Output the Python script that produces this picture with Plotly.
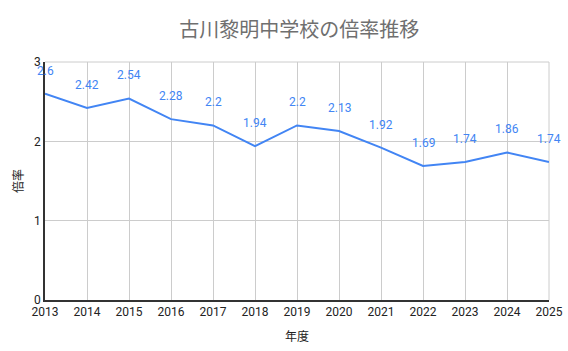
import plotly.graph_objects as go

years = [2013, 2014, 2015, 2016, 2017, 2018, 2019, 2020, 2021, 2022, 2023, 2024, 2025]
ratios = [2.6, 2.42, 2.54, 2.28, 2.2, 1.94, 2.2, 2.13, 1.92, 1.69, 1.74, 1.86, 1.74]
labels = ["2.6", "2.42", "2.54", "2.28", "2.2", "1.94", "2.2", "2.13", "1.92", "1.69", "1.74", "1.86", "1.74"]

FONT = "Roboto, 'Noto Sans CJK JP', sans-serif"
BLUE = "#4285F4"

fig = go.Figure()
fig.add_trace(go.Scatter(x=years, y=ratios, mode="lines",
                         line=dict(color=BLUE, width=2), hoverinfo="x+y"))

for x, y, t in zip(years, ratios, labels):
    fig.add_annotation(x=x, y=y, text=t, showarrow=False, yshift=23,
                       font=dict(color=BLUE, size=12, family=FONT))

fig.update_layout(
    width=568, height=351,
    margin=dict(l=45, r=19, t=62, b=51),
    paper_bgcolor="white", plot_bgcolor="white",
    showlegend=False,
    title=dict(text="古川黎明中学校の倍率推移", x=0.527, xanchor="center", y=0.915, yanchor="middle",
               font=dict(family="'Noto Sans CJK JP', sans-serif", size=20, color="#6f6f6f")),
    font=dict(family=FONT, size=12, color="#222222"),
)
fig.update_xaxes(range=[2013, 2025], tickvals=years, ticktext=[str(y) for y in years],
                 automargin=False,
                 showgrid=True, gridcolor="#cccccc", gridwidth=1,
                 showline=True, linecolor="#333333", linewidth=1.5, mirror=False,
                 ticks="", zeroline=False,
                 title=dict(text="年度", font=dict(size=12, family=FONT, color="#222222"), standoff=14),
                 tickfont=dict(size=12, color="#222222"))
fig.update_yaxes(range=[0, 3], tickvals=[0, 1, 2, 3],
                 automargin=False,
                 showgrid=True, gridcolor="#cccccc", gridwidth=1,
                 showline=True, linecolor="#333333", linewidth=1.5,
                 ticks="", zeroline=False,
                 title=dict(text="倍率", font=dict(size=12, family=FONT, color="#222222"), standoff=8),
                 tickfont=dict(size=12, color="#222222"))
fig.add_shape(type="line", xref="paper", yref="paper", x0=0, x1=1, y0=1, y1=1,
              line=dict(color="#cccccc", width=1), layer="below")
fig.add_shape(type="line", xref="paper", yref="paper", x0=1, x1=1, y0=0, y1=1,
              line=dict(color="#cccccc", width=1), layer="below")

fig.write_html("out.html")
